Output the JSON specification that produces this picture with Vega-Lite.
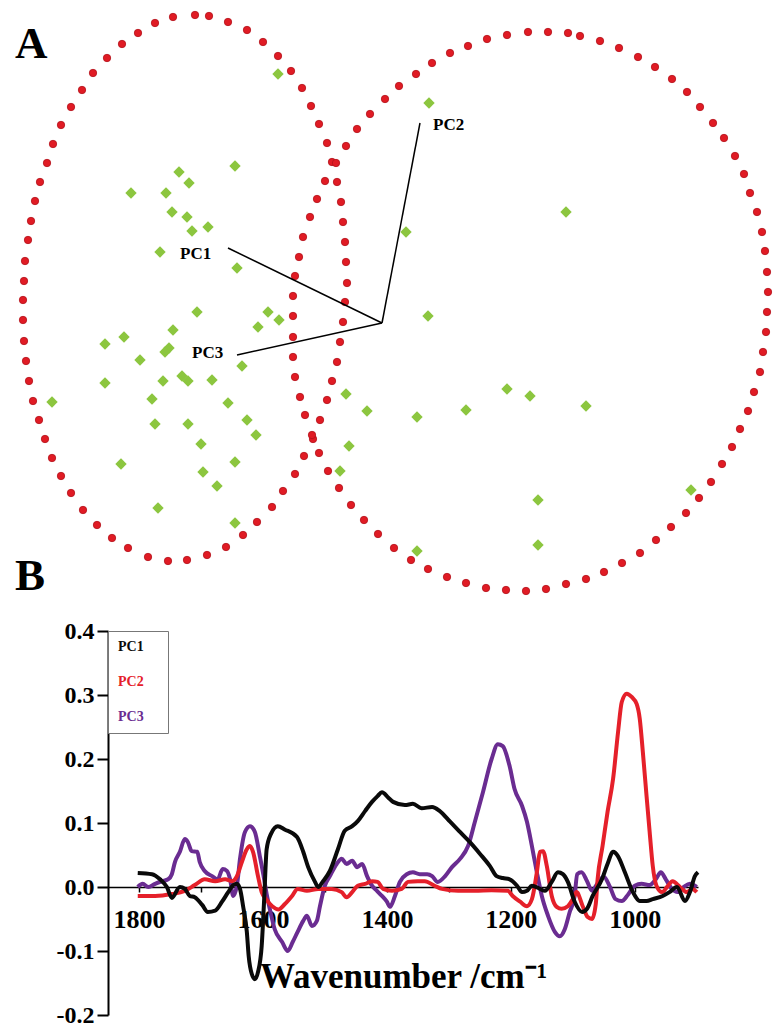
{
"$schema":"https://vega.github.io/schema/vega-lite/v6.json",
"background":"white",
"padding":{"left":15,"top":0,"right":0,"bottom":0},
"spacing":0,
"bounds":"flush",
"resolve":{"scale":{"color":"independent"},"legend":{"color":"independent"}},
"config":{"view":{"stroke":null},"font":"Liberation Serif"},
"vconcat":[
{
"width":665,"height":631,
"encoding":{
"x":{"field":"x","type":"quantitative","scale":{"domain":[108,773],"nice":false,"zero":false},"axis":null},
"y":{"field":"y","type":"quantitative","scale":{"domain":[0,631],"nice":false,"zero":false,"reverse":true},"axis":null}
},
"layer":[
{"data":{"values":[
{"g":"L","x":155,"y":23},{"g":"L","x":173,"y":17},{"g":"L","x":195,"y":15},{"g":"L","x":209,"y":16},{"g":"L","x":228,"y":22},{"g":"L","x":247,"y":30},{"g":"L","x":263,"y":42},{"g":"L","x":278,"y":56},{"g":"L","x":291,"y":71},{"g":"L","x":302,"y":88},{"g":"L","x":311,"y":106},{"g":"L","x":319,"y":124},{"g":"L","x":327,"y":143},{"g":"L","x":332,"y":162},{"g":"L","x":337,"y":182},{"g":"L","x":341,"y":202},{"g":"L","x":343,"y":222},{"g":"L","x":345,"y":242},{"g":"L","x":346,"y":262},{"g":"L","x":347,"y":283},{"g":"L","x":345,"y":302},{"g":"L","x":343,"y":322},{"g":"L","x":340,"y":342},{"g":"L","x":337,"y":362},{"g":"L","x":332,"y":381},{"g":"L","x":327,"y":400},{"g":"L","x":320,"y":420},{"g":"L","x":313,"y":439},{"g":"L","x":304,"y":456},{"g":"L","x":295,"y":474},{"g":"L","x":283,"y":491},{"g":"L","x":272,"y":507},{"g":"L","x":257,"y":522},{"g":"L","x":243,"y":535},{"g":"L","x":226,"y":547},{"g":"L","x":207,"y":555},{"g":"L","x":187,"y":560},{"g":"L","x":168,"y":561},{"g":"L","x":148,"y":557},{"g":"L","x":128,"y":548},{"g":"L","x":112,"y":538},{"g":"L","x":97,"y":525},{"g":"L","x":83,"y":510},{"g":"L","x":71,"y":493},{"g":"L","x":61,"y":476},{"g":"L","x":52,"y":458},{"g":"L","x":45,"y":439},{"g":"L","x":39,"y":420},{"g":"L","x":33,"y":401},{"g":"L","x":29,"y":381},{"g":"L","x":26,"y":361},{"g":"L","x":24,"y":341},{"g":"L","x":23,"y":320},{"g":"L","x":23,"y":300},{"g":"L","x":24,"y":281},{"g":"L","x":25,"y":261},{"g":"L","x":28,"y":240},{"g":"L","x":31,"y":221},{"g":"L","x":35,"y":201},{"g":"L","x":40,"y":182},{"g":"L","x":47,"y":163},{"g":"L","x":53,"y":144},{"g":"L","x":61,"y":125},{"g":"L","x":71,"y":107},{"g":"L","x":82,"y":90},{"g":"L","x":93,"y":73},{"g":"L","x":107,"y":58},{"g":"L","x":122,"y":44},{"g":"L","x":138,"y":33},
{"g":"R","x":293,"y":296},{"g":"R","x":295,"y":276},{"g":"R","x":299,"y":257},{"g":"R","x":303,"y":237},{"g":"R","x":310,"y":217},{"g":"R","x":317,"y":199},{"g":"R","x":325,"y":181},{"g":"R","x":336,"y":163},{"g":"R","x":346,"y":146},{"g":"R","x":357,"y":129},{"g":"R","x":370,"y":114},{"g":"R","x":385,"y":99},{"g":"R","x":399,"y":86},{"g":"R","x":416,"y":74},{"g":"R","x":432,"y":63},{"g":"R","x":450,"y":53},{"g":"R","x":468,"y":46},{"g":"R","x":487,"y":39},{"g":"R","x":507,"y":35},{"g":"R","x":528,"y":32},{"g":"R","x":548,"y":32},{"g":"R","x":568,"y":33},{"g":"R","x":580,"y":36},{"g":"R","x":600,"y":41},{"g":"R","x":619,"y":48},{"g":"R","x":638,"y":57},{"g":"R","x":655,"y":67},{"g":"R","x":672,"y":79},{"g":"R","x":687,"y":92},{"g":"R","x":700,"y":107},{"g":"R","x":713,"y":123},{"g":"R","x":724,"y":138},{"g":"R","x":735,"y":156},{"g":"R","x":744,"y":174},{"g":"R","x":750,"y":193},{"g":"R","x":757,"y":212},{"g":"R","x":762,"y":232},{"g":"R","x":765,"y":251},{"g":"R","x":767,"y":272},{"g":"R","x":768,"y":292},{"g":"R","x":767,"y":312},{"g":"R","x":766,"y":332},{"g":"R","x":763,"y":352},{"g":"R","x":760,"y":372},{"g":"R","x":754,"y":392},{"g":"R","x":748,"y":411},{"g":"R","x":740,"y":429},{"g":"R","x":732,"y":447},{"g":"R","x":722,"y":464},{"g":"R","x":711,"y":482},{"g":"R","x":699,"y":498},{"g":"R","x":686,"y":513},{"g":"R","x":671,"y":527},{"g":"R","x":656,"y":540},{"g":"R","x":640,"y":553},{"g":"R","x":622,"y":563},{"g":"R","x":604,"y":572},{"g":"R","x":586,"y":579},{"g":"R","x":566,"y":584},{"g":"R","x":546,"y":589},{"g":"R","x":526,"y":591},{"g":"R","x":506,"y":590},{"g":"R","x":486,"y":588},{"g":"R","x":466,"y":583},{"g":"R","x":447,"y":577},{"g":"R","x":428,"y":569},{"g":"R","x":411,"y":560},{"g":"R","x":394,"y":548},{"g":"R","x":378,"y":534},{"g":"R","x":364,"y":520},{"g":"R","x":351,"y":505},{"g":"R","x":339,"y":488},{"g":"R","x":328,"y":471},{"g":"R","x":319,"y":453},{"g":"R","x":312,"y":435},{"g":"R","x":305,"y":415},{"g":"R","x":300,"y":397},{"g":"R","x":295,"y":377},{"g":"R","x":293,"y":357},{"g":"R","x":293,"y":337},{"g":"R","x":293,"y":316}
]},"mark":{"type":"circle","size":55,"color":"#e01b24","opacity":1,"stroke":"#b3121b","strokeWidth":0.8}},
{"data":{"values":[
{"x":278,"y":74},{"x":235,"y":166},{"x":179,"y":172},{"x":189,"y":183},{"x":131,"y":193},{"x":166,"y":193},{"x":172,"y":212},{"x":187,"y":217},{"x":208,"y":227},{"x":192,"y":231},{"x":160,"y":252},{"x":237,"y":268},{"x":429,"y":103},{"x":566,"y":212},{"x":406,"y":232},{"x":197,"y":312},{"x":268,"y":312},{"x":279,"y":320},{"x":258,"y":327},{"x":173,"y":330},{"x":124,"y":337},{"x":105,"y":344},{"x":169,"y":348},{"x":165,"y":352},{"x":140,"y":360},{"x":242,"y":366},{"x":182,"y":376},{"x":188,"y":381},{"x":163,"y":381},{"x":212,"y":380},{"x":105,"y":383},{"x":52,"y":402},{"x":152,"y":399},{"x":228,"y":403},{"x":155,"y":424},{"x":188,"y":424},{"x":247,"y":420},{"x":256,"y":435},{"x":201,"y":444},{"x":346,"y":394},{"x":367,"y":411},{"x":349,"y":446},{"x":340,"y":471},{"x":121,"y":464},{"x":235,"y":462},{"x":203,"y":472},{"x":217,"y":486},{"x":158,"y":508},{"x":235,"y":523},{"x":428,"y":316},{"x":507,"y":389},{"x":530,"y":396},{"x":586,"y":406},{"x":417,"y":417},{"x":466,"y":410},{"x":538,"y":500},{"x":538,"y":545},{"x":691,"y":490},{"x":417,"y":551}
]},"mark":{"type":"point","shape":"diamond","filled":true,"size":130,"color":"#8cc63f","opacity":1}},
{"data":{"values":[
{"pc":"PC1","x":228,"y":248,"x2":382,"y2":323},{"pc":"PC2","x":420,"y":123,"x2":382,"y2":323},{"pc":"PC3","x":237,"y":355,"x2":382,"y2":323}
]},"mark":{"type":"rule","color":"black","strokeWidth":1.5},"encoding":{"x2":{"field":"x2"},"y2":{"field":"y2"}}},
{"data":{"values":[
{"pc":"PC1","x":180,"y":254},{"pc":"PC2","x":433,"y":125},{"pc":"PC3","x":192,"y":353}
]},"mark":{"type":"text","align":"left","baseline":"middle","fontSize":17,"fontWeight":"bold","font":"Liberation Serif","color":"black"},"encoding":{"text":{"field":"pc"}}},
{"data":{"values":[
{"panel":"A","x":15,"y":58},{"panel":"B","x":15,"y":590}
]},"mark":{"type":"text","align":"left","baseline":"alphabetic","fontSize":45,"fontWeight":"bold","font":"Liberation Serif","color":"black"},"encoding":{"text":{"field":"panel"}}}
]
},
{
"width":590,"height":384,
"data":{"values":[
{"pc":"PC1","wn":1802,"v":0.022},{"pc":"PC1","wn":1779,"v":0.020},{"pc":"PC1","wn":1766,"v":0.012},{"pc":"PC1","wn":1755,"v":0.000},{"pc":"PC1","wn":1747,"v":-0.017},{"pc":"PC1","wn":1734,"v":0.000},{"pc":"PC1","wn":1726,"v":-0.003},{"pc":"PC1","wn":1718,"v":-0.014},{"pc":"PC1","wn":1710,"v":-0.016},{"pc":"PC1","wn":1698,"v":-0.028},{"pc":"PC1","wn":1689,"v":-0.039},{"pc":"PC1","wn":1677,"v":-0.037},{"pc":"PC1","wn":1666,"v":-0.023},{"pc":"PC1","wn":1656,"v":-0.008},{"pc":"PC1","wn":1648,"v":0.003},{"pc":"PC1","wn":1642,"v":0.005},{"pc":"PC1","wn":1637,"v":-0.003},{"pc":"PC1","wn":1632,"v":-0.030},{"pc":"PC1","wn":1626,"v":-0.070},{"pc":"PC1","wn":1623,"v":-0.108},{"pc":"PC1","wn":1618,"v":-0.136},{"pc":"PC1","wn":1613,"v":-0.144},{"pc":"PC1","wn":1608,"v":-0.133},{"pc":"PC1","wn":1602,"v":-0.092},{"pc":"PC1","wn":1598,"v":-0.019},{"pc":"PC1","wn":1594,"v":0.059},{"pc":"PC1","wn":1587,"v":0.083},{"pc":"PC1","wn":1576,"v":0.095},{"pc":"PC1","wn":1565,"v":0.090},{"pc":"PC1","wn":1545,"v":0.078},{"pc":"PC1","wn":1535,"v":0.055},{"pc":"PC1","wn":1527,"v":0.031},{"pc":"PC1","wn":1516,"v":0.008},{"pc":"PC1","wn":1511,"v":0.000},{"pc":"PC1","wn":1503,"v":0.009},{"pc":"PC1","wn":1492,"v":0.025},{"pc":"PC1","wn":1479,"v":0.059},{"pc":"PC1","wn":1468,"v":0.088},{"pc":"PC1","wn":1456,"v":0.095},{"pc":"PC1","wn":1447,"v":0.103},{"pc":"PC1","wn":1435,"v":0.119},{"pc":"PC1","wn":1424,"v":0.133},{"pc":"PC1","wn":1415,"v":0.142},{"pc":"PC1","wn":1408,"v":0.148},{"pc":"PC1","wn":1398,"v":0.140},{"pc":"PC1","wn":1390,"v":0.133},{"pc":"PC1","wn":1371,"v":0.128},{"pc":"PC1","wn":1358,"v":0.130},{"pc":"PC1","wn":1344,"v":0.123},{"pc":"PC1","wn":1327,"v":0.125},{"pc":"PC1","wn":1315,"v":0.119},{"pc":"PC1","wn":1298,"v":0.102},{"pc":"PC1","wn":1282,"v":0.086},{"pc":"PC1","wn":1266,"v":0.070},{"pc":"PC1","wn":1250,"v":0.052},{"pc":"PC1","wn":1234,"v":0.033},{"pc":"PC1","wn":1223,"v":0.017},{"pc":"PC1","wn":1213,"v":0.014},{"pc":"PC1","wn":1202,"v":0.012},{"pc":"PC1","wn":1190,"v":0.002},{"pc":"PC1","wn":1182,"v":-0.008},{"pc":"PC1","wn":1174,"v":-0.006},{"pc":"PC1","wn":1166,"v":0.002},{"pc":"PC1","wn":1153,"v":-0.003},{"pc":"PC1","wn":1145,"v":-0.006},{"pc":"PC1","wn":1134,"v":0.008},{"pc":"PC1","wn":1124,"v":0.023},{"pc":"PC1","wn":1116,"v":0.020},{"pc":"PC1","wn":1108,"v":0.008},{"pc":"PC1","wn":1097,"v":-0.023},{"pc":"PC1","wn":1085,"v":-0.039},{"pc":"PC1","wn":1077,"v":-0.034},{"pc":"PC1","wn":1068,"v":-0.014},{"pc":"PC1","wn":1053,"v":0.012},{"pc":"PC1","wn":1044,"v":0.036},{"pc":"PC1","wn":1035,"v":0.055},{"pc":"PC1","wn":1027,"v":0.048},{"pc":"PC1","wn":1016,"v":0.023},{"pc":"PC1","wn":1003,"v":-0.008},{"pc":"PC1","wn":992,"v":-0.022},{"pc":"PC1","wn":981,"v":-0.022},{"pc":"PC1","wn":971,"v":-0.019},{"pc":"PC1","wn":955,"v":-0.014},{"pc":"PC1","wn":944,"v":-0.008},{"pc":"PC1","wn":932,"v":0.000},{"pc":"PC1","wn":919,"v":-0.022},{"pc":"PC1","wn":911,"v":-0.008},{"pc":"PC1","wn":903,"v":0.017},{"pc":"PC1","wn":898,"v":0.023},
{"pc":"PC2","wn":1802,"v":-0.014},{"pc":"PC2","wn":1774,"v":-0.014},{"pc":"PC2","wn":1747,"v":-0.011},{"pc":"PC2","wn":1726,"v":-0.006},{"pc":"PC2","wn":1710,"v":0.003},{"pc":"PC2","wn":1694,"v":0.012},{"pc":"PC2","wn":1677,"v":0.009},{"pc":"PC2","wn":1661,"v":0.012},{"pc":"PC2","wn":1650,"v":0.009},{"pc":"PC2","wn":1642,"v":0.017},{"pc":"PC2","wn":1634,"v":0.039},{"pc":"PC2","wn":1626,"v":0.059},{"pc":"PC2","wn":1621,"v":0.064},{"pc":"PC2","wn":1616,"v":0.055},{"pc":"PC2","wn":1608,"v":0.017},{"pc":"PC2","wn":1602,"v":-0.008},{"pc":"PC2","wn":1595,"v":-0.019},{"pc":"PC2","wn":1585,"v":-0.030},{"pc":"PC2","wn":1575,"v":-0.035},{"pc":"PC2","wn":1565,"v":-0.027},{"pc":"PC2","wn":1553,"v":-0.014},{"pc":"PC2","wn":1544,"v":-0.003},{"pc":"PC2","wn":1529,"v":-0.006},{"pc":"PC2","wn":1511,"v":-0.003},{"pc":"PC2","wn":1489,"v":-0.003},{"pc":"PC2","wn":1473,"v":-0.008},{"pc":"PC2","wn":1465,"v":-0.016},{"pc":"PC2","wn":1456,"v":-0.008},{"pc":"PC2","wn":1447,"v":0.002},{"pc":"PC2","wn":1435,"v":0.005},{"pc":"PC2","wn":1424,"v":0.009},{"pc":"PC2","wn":1415,"v":0.008},{"pc":"PC2","wn":1406,"v":-0.003},{"pc":"PC2","wn":1392,"v":-0.006},{"pc":"PC2","wn":1376,"v":-0.003},{"pc":"PC2","wn":1366,"v":0.008},{"pc":"PC2","wn":1350,"v":0.009},{"pc":"PC2","wn":1339,"v":0.009},{"pc":"PC2","wn":1323,"v":0.002},{"pc":"PC2","wn":1311,"v":-0.003},{"pc":"PC2","wn":1285,"v":-0.006},{"pc":"PC2","wn":1258,"v":-0.006},{"pc":"PC2","wn":1231,"v":-0.005},{"pc":"PC2","wn":1205,"v":-0.006},{"pc":"PC2","wn":1197,"v":-0.014},{"pc":"PC2","wn":1185,"v":-0.023},{"pc":"PC2","wn":1174,"v":-0.030},{"pc":"PC2","wn":1166,"v":-0.019},{"pc":"PC2","wn":1158,"v":0.023},{"pc":"PC2","wn":1153,"v":0.055},{"pc":"PC2","wn":1148,"v":0.056},{"pc":"PC2","wn":1142,"v":0.033},{"pc":"PC2","wn":1134,"v":-0.014},{"pc":"PC2","wn":1126,"v":-0.031},{"pc":"PC2","wn":1118,"v":-0.034},{"pc":"PC2","wn":1108,"v":-0.030},{"pc":"PC2","wn":1100,"v":-0.019},{"pc":"PC2","wn":1094,"v":-0.008},{"pc":"PC2","wn":1084,"v":-0.030},{"pc":"PC2","wn":1076,"v":-0.047},{"pc":"PC2","wn":1069,"v":-0.050},{"pc":"PC2","wn":1063,"v":-0.027},{"pc":"PC2","wn":1060,"v":0.012},{"pc":"PC2","wn":1052,"v":0.064},{"pc":"PC2","wn":1044,"v":0.117},{"pc":"PC2","wn":1035,"v":0.169},{"pc":"PC2","wn":1027,"v":0.242},{"pc":"PC2","wn":1021,"v":0.289},{"pc":"PC2","wn":1013,"v":0.302},{"pc":"PC2","wn":1005,"v":0.297},{"pc":"PC2","wn":997,"v":0.286},{"pc":"PC2","wn":992,"v":0.263},{"pc":"PC2","wn":987,"v":0.211},{"pc":"PC2","wn":981,"v":0.142},{"pc":"PC2","wn":976,"v":0.086},{"pc":"PC2","wn":971,"v":0.033},{"pc":"PC2","wn":965,"v":0.002},{"pc":"PC2","wn":956,"v":-0.008},{"pc":"PC2","wn":948,"v":0.000},{"pc":"PC2","wn":939,"v":0.009},{"pc":"PC2","wn":927,"v":0.000},{"pc":"PC2","wn":916,"v":-0.008},{"pc":"PC2","wn":907,"v":-0.003},{"pc":"PC2","wn":900,"v":-0.008},
{"pc":"PC3","wn":1802,"v":0.000},{"pc":"PC3","wn":1794,"v":0.005},{"pc":"PC3","wn":1785,"v":0.000},{"pc":"PC3","wn":1774,"v":0.005},{"pc":"PC3","wn":1763,"v":0.009},{"pc":"PC3","wn":1753,"v":0.012},{"pc":"PC3","wn":1747,"v":0.020},{"pc":"PC3","wn":1742,"v":0.039},{"pc":"PC3","wn":1734,"v":0.055},{"pc":"PC3","wn":1726,"v":0.075},{"pc":"PC3","wn":1721,"v":0.070},{"pc":"PC3","wn":1715,"v":0.056},{"pc":"PC3","wn":1706,"v":0.055},{"pc":"PC3","wn":1702,"v":0.039},{"pc":"PC3","wn":1694,"v":0.025},{"pc":"PC3","wn":1682,"v":0.017},{"pc":"PC3","wn":1673,"v":0.012},{"pc":"PC3","wn":1665,"v":0.028},{"pc":"PC3","wn":1658,"v":0.025},{"pc":"PC3","wn":1653,"v":0.012},{"pc":"PC3","wn":1648,"v":-0.014},{"pc":"PC3","wn":1642,"v":0.002},{"pc":"PC3","wn":1637,"v":0.044},{"pc":"PC3","wn":1629,"v":0.086},{"pc":"PC3","wn":1621,"v":0.095},{"pc":"PC3","wn":1613,"v":0.086},{"pc":"PC3","wn":1605,"v":0.048},{"pc":"PC3","wn":1598,"v":0.012},{"pc":"PC3","wn":1594,"v":-0.011},{"pc":"PC3","wn":1589,"v":-0.034},{"pc":"PC3","wn":1581,"v":-0.066},{"pc":"PC3","wn":1569,"v":-0.086},{"pc":"PC3","wn":1560,"v":-0.100},{"pc":"PC3","wn":1552,"v":-0.086},{"pc":"PC3","wn":1544,"v":-0.070},{"pc":"PC3","wn":1535,"v":-0.053},{"pc":"PC3","wn":1529,"v":-0.045},{"pc":"PC3","wn":1521,"v":-0.061},{"pc":"PC3","wn":1513,"v":-0.053},{"pc":"PC3","wn":1508,"v":-0.030},{"pc":"PC3","wn":1500,"v":0.002},{"pc":"PC3","wn":1492,"v":0.017},{"pc":"PC3","wn":1481,"v":0.036},{"pc":"PC3","wn":1473,"v":0.044},{"pc":"PC3","wn":1465,"v":0.036},{"pc":"PC3","wn":1456,"v":0.041},{"pc":"PC3","wn":1448,"v":0.031},{"pc":"PC3","wn":1440,"v":0.036},{"pc":"PC3","wn":1432,"v":0.017},{"pc":"PC3","wn":1424,"v":0.002},{"pc":"PC3","wn":1416,"v":-0.006},{"pc":"PC3","wn":1408,"v":-0.014},{"pc":"PC3","wn":1400,"v":-0.023},{"pc":"PC3","wn":1395,"v":-0.031},{"pc":"PC3","wn":1387,"v":-0.014},{"pc":"PC3","wn":1379,"v":0.008},{"pc":"PC3","wn":1368,"v":0.020},{"pc":"PC3","wn":1358,"v":0.023},{"pc":"PC3","wn":1347,"v":0.020},{"pc":"PC3","wn":1335,"v":0.020},{"pc":"PC3","wn":1327,"v":0.017},{"pc":"PC3","wn":1318,"v":0.008},{"pc":"PC3","wn":1306,"v":0.017},{"pc":"PC3","wn":1295,"v":0.031},{"pc":"PC3","wn":1282,"v":0.044},{"pc":"PC3","wn":1269,"v":0.064},{"pc":"PC3","wn":1258,"v":0.102},{"pc":"PC3","wn":1245,"v":0.148},{"pc":"PC3","wn":1231,"v":0.200},{"pc":"PC3","wn":1221,"v":0.223},{"pc":"PC3","wn":1213,"v":0.220},{"pc":"PC3","wn":1202,"v":0.189},{"pc":"PC3","wn":1194,"v":0.153},{"pc":"PC3","wn":1182,"v":0.127},{"pc":"PC3","wn":1174,"v":0.102},{"pc":"PC3","wn":1166,"v":0.064},{"pc":"PC3","wn":1158,"v":0.023},{"pc":"PC3","wn":1150,"v":-0.014},{"pc":"PC3","wn":1140,"v":-0.045},{"pc":"PC3","wn":1129,"v":-0.070},{"pc":"PC3","wn":1121,"v":-0.077},{"pc":"PC3","wn":1113,"v":-0.066},{"pc":"PC3","wn":1105,"v":-0.039},{"pc":"PC3","wn":1097,"v":-0.014},{"pc":"PC3","wn":1093,"v":0.020},{"pc":"PC3","wn":1086,"v":0.023},{"pc":"PC3","wn":1077,"v":0.009},{"pc":"PC3","wn":1069,"v":-0.006},{"pc":"PC3","wn":1060,"v":0.006},{"pc":"PC3","wn":1050,"v":0.016},{"pc":"PC3","wn":1040,"v":0.000},{"pc":"PC3","wn":1031,"v":-0.019},{"pc":"PC3","wn":1021,"v":-0.022},{"pc":"PC3","wn":1011,"v":-0.012},{"pc":"PC3","wn":1000,"v":0.002},{"pc":"PC3","wn":989,"v":0.005},{"pc":"PC3","wn":976,"v":0.003},{"pc":"PC3","wn":966,"v":0.012},{"pc":"PC3","wn":958,"v":0.023},{"pc":"PC3","wn":950,"v":0.012},{"pc":"PC3","wn":940,"v":-0.003},{"pc":"PC3","wn":931,"v":-0.008},{"pc":"PC3","wn":921,"v":0.000},{"pc":"PC3","wn":911,"v":0.005},{"pc":"PC3","wn":900,"v":0.000}
]},
"encoding":{
"x":{"field":"wn","type":"quantitative","scale":{"domain":[898,1850],"reverse":true,"nice":false,"zero":false},
"axis":{"values":[1800,1700,1600,1500,1400,1300,1200,1100,1000],"labelExpr":"datum.value % 200 === 0 ? format(datum.value,'d') : ''","offset":-128,"title":"Wavenumber /cm⁻¹","titleFont":"Liberation Serif","titleFontSize":35,"titleFontWeight":"bold","titleColor":"black","titlePadding":27,"grid":false,"tickSize":5,"tickWidth":1.5,"tickColor":"black","domainColor":"black","domainWidth":1.5,"labelFont":"Liberation Serif","labelFontSize":26,"labelFontWeight":"bold","labelColor":"black","labelPadding":14,"labelFlush":false,"labelOverlap":false}},
"y":{"field":"v","type":"quantitative","scale":{"domain":[-0.2,0.4],"nice":false,"zero":false},
"axis":{"values":[-0.2,-0.1,0,0.1,0.2,0.3,0.4],"labelExpr":"replace(format(datum.value,'.1f'),'−','-')","title":null,"grid":false,"tickSize":11,"tickWidth":2,"tickColor":"black","domainColor":"black","domainWidth":2,"labelFont":"Liberation Serif","labelFontSize":24,"labelFontWeight":"bold","labelColor":"black","labelPadding":3}},
"color":{"field":"pc","type":"nominal","scale":{"domain":["PC1","PC2","PC3"],"range":["#0a0a0a","#e5202a","#6a2c91"]},
"legend":{"title":"M","titleOrient":"right","titleOpacity":0,"titleFontSize":14,"titlePadding":1,"titleFont":"Liberation Serif","orient":"top-left","offset":0,"padding":9,"rowPadding":21,"symbolSize":1,"symbolOpacity":0,"symbolStrokeWidth":0,"labelOffset":-13,"labelFont":"Liberation Serif","labelFontSize":14,"labelFontWeight":"bold","strokeColor":"#777777","fillColor":"white","encode":{"labels":{"update":{"fill":{"signal":"datum.value === 'PC2' ? '#e5202a' : datum.value === 'PC3' ? '#6a2c91' : '#0a0a0a'"}}}}}}
},
"layer":[
{"transform":[{"filter":"datum.pc === 'PC3'"}],"mark":{"type":"line","strokeWidth":4,"interpolate":"monotone"}},
{"transform":[{"filter":"datum.pc === 'PC2'"}],"mark":{"type":"line","strokeWidth":4,"interpolate":"monotone"}},
{"transform":[{"filter":"datum.pc === 'PC1'"}],"mark":{"type":"line","strokeWidth":4,"interpolate":"monotone"}}
]
}
]
}
